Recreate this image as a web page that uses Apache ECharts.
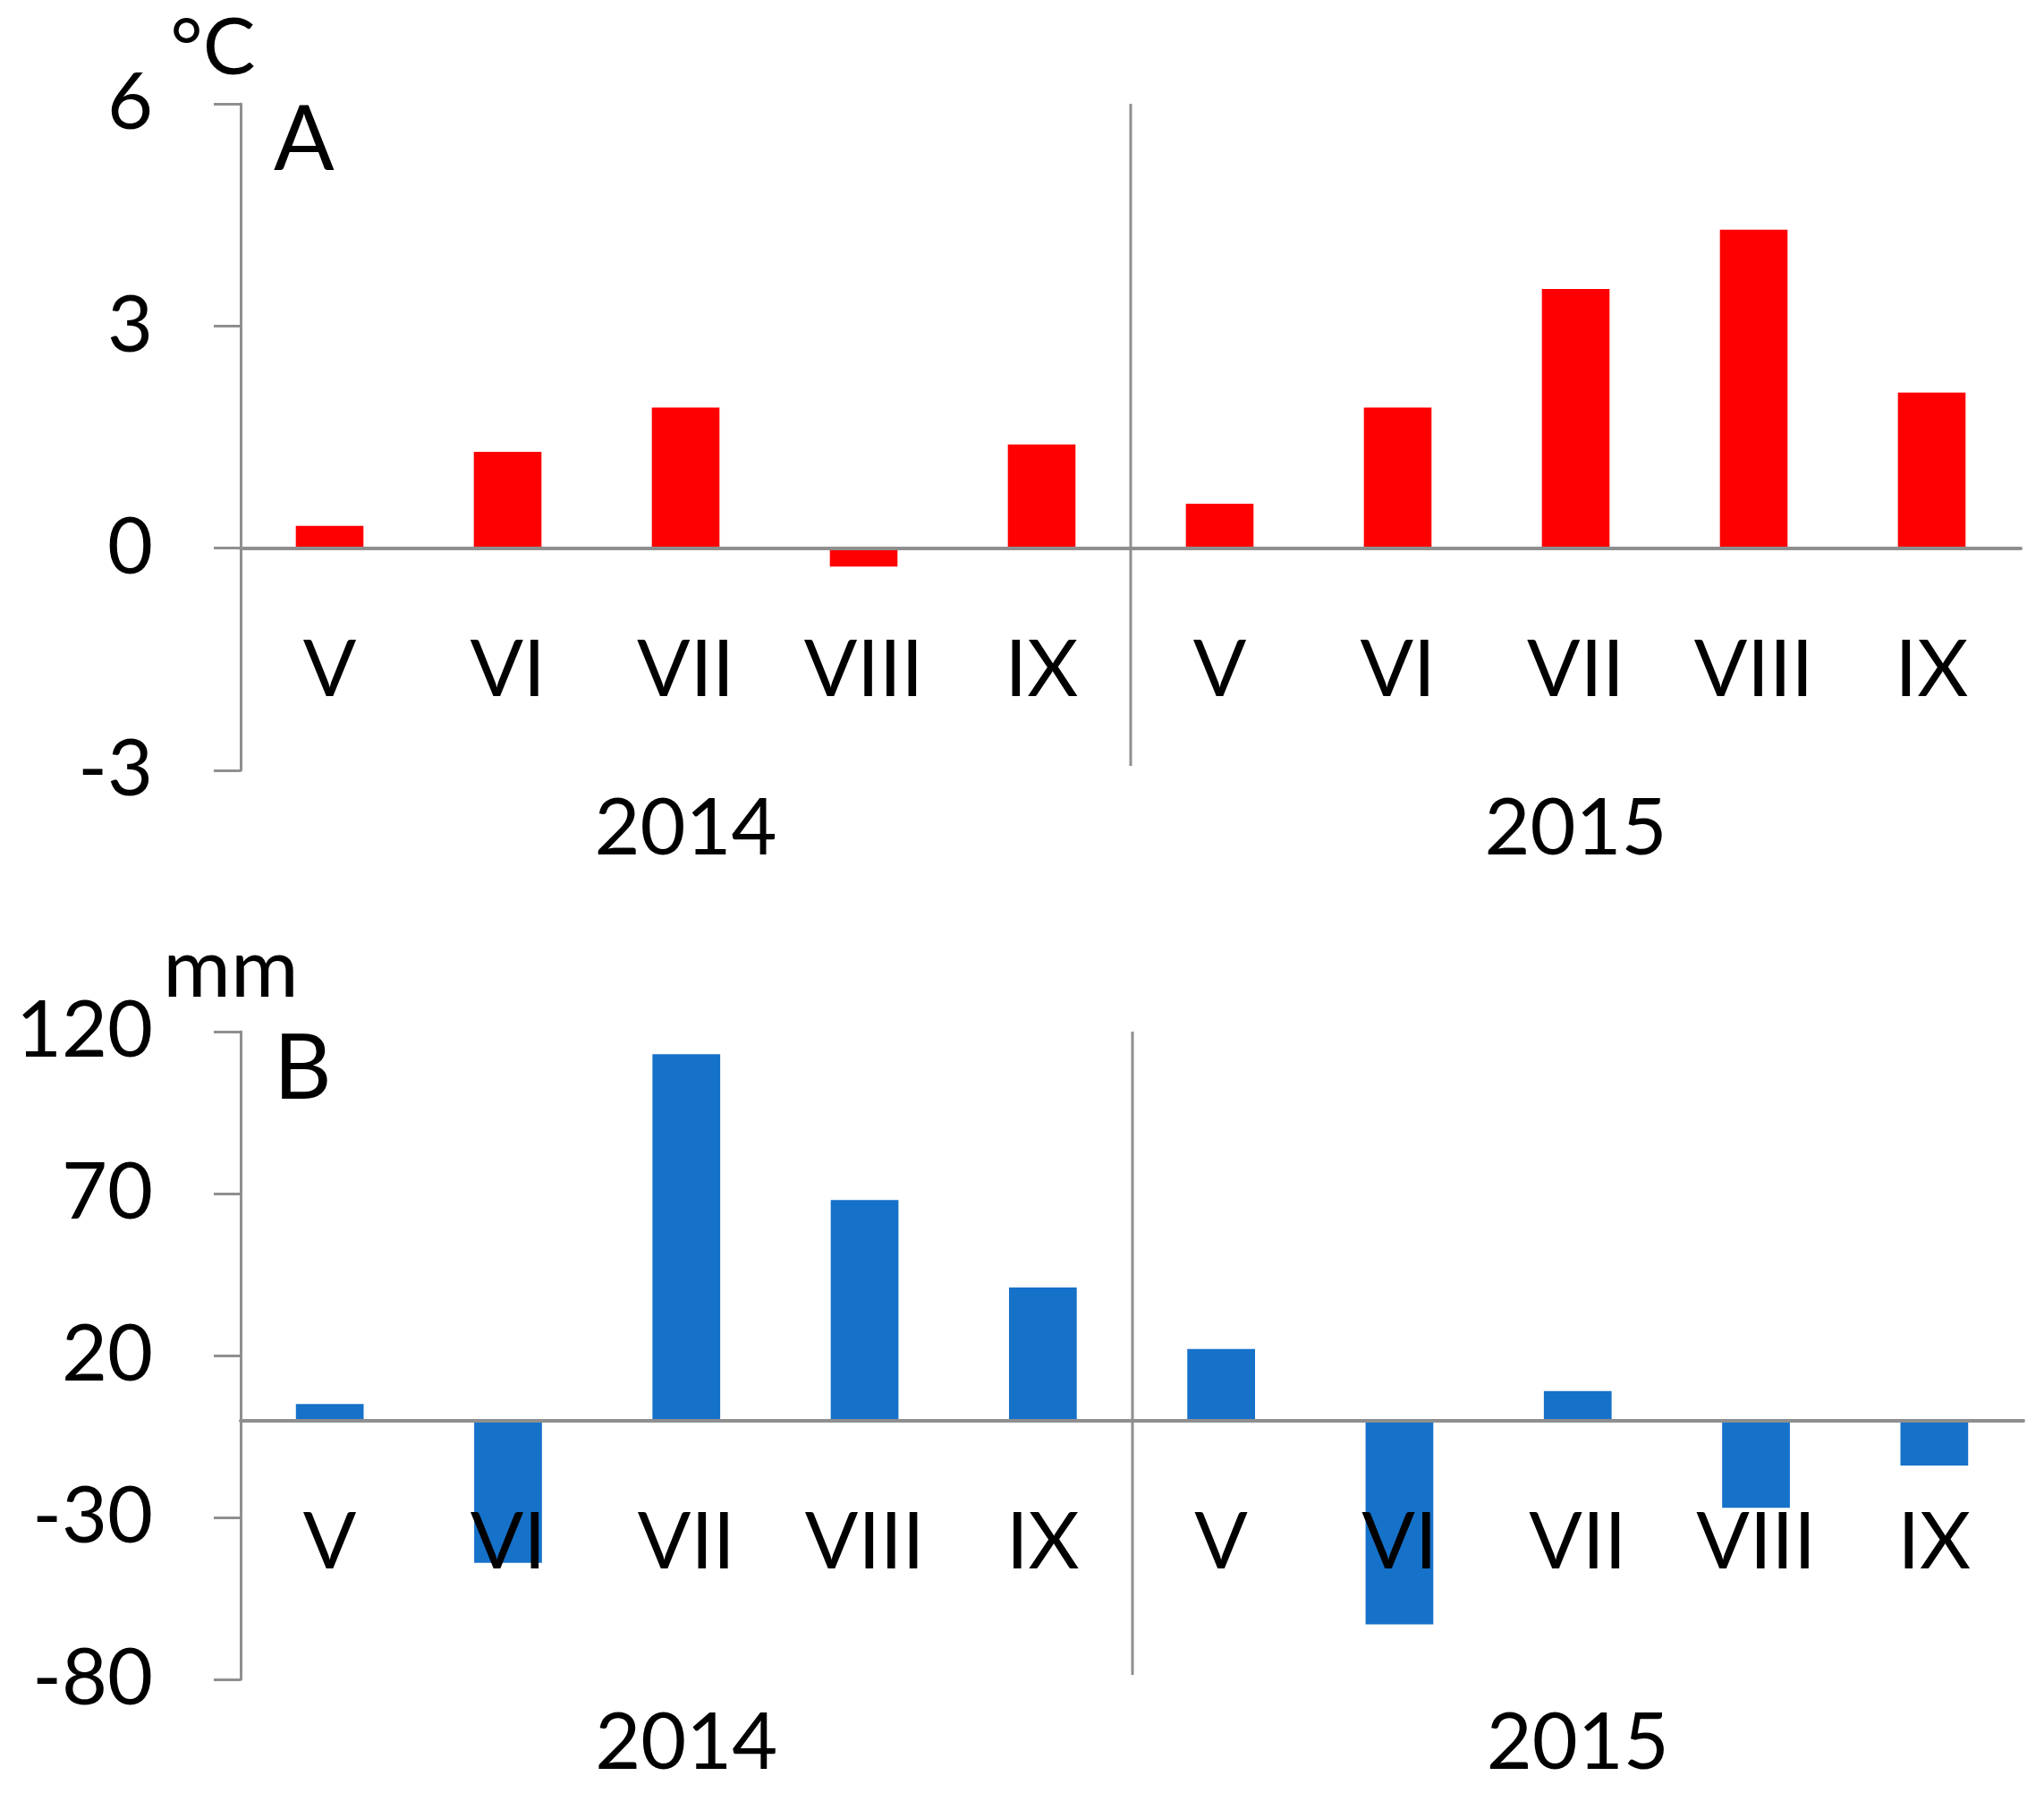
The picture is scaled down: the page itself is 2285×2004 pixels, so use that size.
<!DOCTYPE html>
<html>
<head>
<meta charset="utf-8">
<script src="https://cdn.jsdelivr.net/npm/echarts@6/dist/echarts.min.js"></script>
<style>
html,body{margin:0;padding:0;background:#fff;}
#main{width:2285px;height:2004px;}
</style>
</head>
<body>
<div id="main"></div>
<script>
// ---- data ----
const months = ['V','VI','VII','VIII','IX','V','VI','VII','VIII','IX'];
const years = ['2014','2015'];
const tempAnomaly = [0.3, 1.3, 1.9, -0.25, 1.4, 0.6, 1.9, 3.5, 4.3, 2.1];
const precipAnomaly = [5, -44, 113, 68, 41, 22, -63, 9, -27, -14];
const tempTicks = [-3, 0, 3, 6];
const precipTicks = [-80, -30, 20, 70, 120];

const FONT = 'Lato';
const GRAY = '#8f8f8f';
const chart = echarts.init(document.getElementById('main'), null, {renderer:'canvas'});

const grids = [
  {left:269, top:116, width:1990, height:745, containLabel:false, outerBoundsMode:'none'},
  {left:269, top:1153, width:1993, height:724, containLabel:false, outerBoundsMode:'none'}
];

// offset that lifts the month axis from the grid bottom up to the zero line
function zeroOffset(ticks, h){
  const lo = ticks[0], hi = ticks[ticks.length-1];
  return -((0 - lo) / (hi - lo)) * h;
}

function monthAxis(gi, ticks){
  return {
    type:'category', gridIndex:gi, data:months, z:10, position:'bottom',
    offset: zeroOffset(ticks, grids[gi].height),
    axisLine:{show:true, onZero:false, lineStyle:{color:GRAY, width:4}},
    axisTick:{show:false},
    axisLabel:{fontFamily:FONT, fontSize:88, color:'#000', margin:93, interval:0},
    splitLine:{show:false}
  };
}
function yearAxis(gi, margin){
  return {
    type:'category', gridIndex:gi, data:years, position:'bottom', offset:0,
    axisLine:{show:false, onZero:false}, axisTick:{show:false},
    axisLabel:{fontFamily:FONT, fontSize:88, color:'#000', margin:margin},
    splitLine:{show:false}
  };
}
function valueAxis(gi, ticks, extra){
  return Object.assign({
    type:'value', gridIndex:gi, min:ticks[0], max:ticks[ticks.length-1],
    axisLine:{show:true, onZero:false, lineStyle:{color:GRAY, width:3}},
    axisTick:{show:true, inside:false, length:30, lineStyle:{color:GRAY, width:3}},
    axisLabel:{fontFamily:FONT, fontSize:88, color:'#000', margin:98},
    splitLine:{show:false}
  }, extra);
}

const option = {
  backgroundColor:'#fff',
  animation:false,
  grid:grids,
  xAxis:[monthAxis(0, tempTicks), yearAxis(0, 22), monthAxis(1, precipTicks), yearAxis(1, 28)],
  yAxis:[
    valueAxis(0, tempTicks, {interval:3}),
    (function(){
      const a = valueAxis(1, precipTicks, {});
      a.axisTick.customValues = precipTicks;
      a.axisLabel.customValues = precipTicks;
      return a;
    })()
  ],
  series:[
    {type:'bar', xAxisIndex:0, yAxisIndex:0, data:tempAnomaly, barWidth:'38%',
     itemStyle:{color:'#ff0000'}, z:2},
    {type:'bar', xAxisIndex:2, yAxisIndex:1, data:precipAnomaly, barWidth:'38%',
     itemStyle:{color:'#1671c9'}, z:2}
  ]
};
chart.setOption(option);

// separators between years and panel texts
function sepLine(xIdx, yIdx, ticks){
  const x1 = chart.convertToPixel({xAxisIndex:xIdx}, 4);
  const x2 = chart.convertToPixel({xAxisIndex:xIdx}, 5);
  const x = Math.round((x1 + x2)/2);
  const yTop = chart.convertToPixel({yAxisIndex:yIdx}, ticks[ticks.length-1]);
  const yBot = chart.convertToPixel({yAxisIndex:yIdx}, ticks[0]);
  return {type:'line', shape:{x1:x, y1:yTop, x2:x, y2:yBot-5}, style:{stroke:GRAY, lineWidth:3}, z:5};
}
chart.setOption({
  graphic:[
    sepLine(0, 0, tempTicks),
    sepLine(2, 1, precipTicks),
    {type:'text', x:238, y:55, style:{text:'°C', font:'88px '+FONT, fill:'#000', align:'center', verticalAlign:'middle'}},
    {type:'text', x:306, y:158, style:{text:'A', font:'100px '+FONT, fill:'#000', align:'left', verticalAlign:'middle'}},
    {type:'text', x:258, y:1084, style:{text:'mm', font:'92px '+FONT, fill:'#000', align:'center', verticalAlign:'middle'}},
    {type:'text', x:306, y:1196, style:{text:'B', font:'100px '+FONT, fill:'#000', align:'left', verticalAlign:'middle'}}
  ]
});
</script>
</body>
</html>
